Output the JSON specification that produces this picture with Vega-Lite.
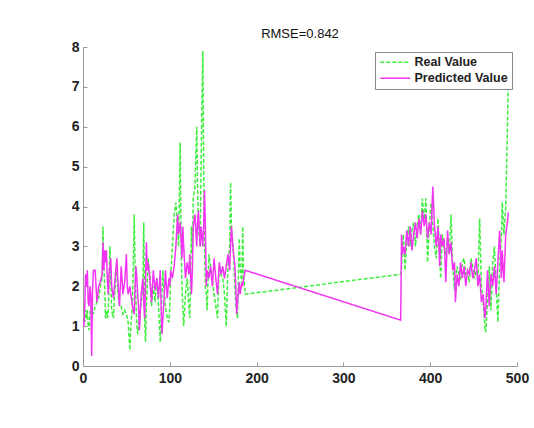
{
  "$schema": "https://vega.github.io/schema/vega-lite/v6.json",
  "width": 434,
  "height": 319,
  "autosize": "none",
  "padding": {"left": 83, "top": 47, "right": 17, "bottom": 62},
  "background": "white",
  "title": {"text": "RMSE=0.842", "fontSize": 13, "fontWeight": "normal", "font": "Liberation Sans", "color": "#111", "offset": -1, "anchor": "middle"},
  "data": {"values": [
    {"x":1,"real":1.3,"pred":1.0},{"x":2,"real":1.1,"pred":1.5},{"x":3,"real":1.4,"pred":2.3},{"x":4,"real":1.2,"pred":2.0},
    {"x":5,"real":1.4,"pred":2.4},{"x":6,"real":1.0,"pred":1.6},{"x":7,"real":0.9,"pred":1.5},{"x":8,"real":1.3,"pred":2.0},
    {"x":9,"real":1.5,"pred":1.8},{"x":10,"real":1.2,"pred":0.25},{"x":11,"real":1.4,"pred":1.9},{"x":12,"real":1.3,"pred":2.4},
    {"x":14,"real":1.5,"pred":2.4},{"x":16,"real":1.6,"pred":1.6},{"x":18,"real":1.7,"pred":2.0},{"x":20,"real":2.0,"pred":2.1},
    {"x":22,"real":2.2,"pred":2.3},{"x":23,"real":3.5,"pred":3.1},{"x":24,"real":2.5,"pred":2.4},{"x":25,"real":2.0,"pred":2.9},
    {"x":26,"real":1.2,"pred":2.6},{"x":27,"real":1.4,"pred":2.9},{"x":28,"real":1.2,"pred":2.2},{"x":29,"real":1.3,"pred":1.8},
    {"x":30,"real":2.0,"pred":2.3},{"x":31,"real":3.0,"pred":2.5},{"x":32,"real":2.2,"pred":2.7},{"x":33,"real":1.4,"pred":2.0},
    {"x":35,"real":1.2,"pred":1.7},{"x":37,"real":2.0,"pred":2.2},{"x":39,"real":2.6,"pred":2.7},{"x":40,"real":1.9,"pred":2.2},
    {"x":42,"real":1.5,"pred":1.5},{"x":44,"real":1.5,"pred":2.5},{"x":46,"real":1.3,"pred":1.8},{"x":48,"real":1.4,"pred":2.1},
    {"x":50,"real":1.3,"pred":2.8},{"x":51,"real":1.2,"pred":2.0},{"x":52,"real":1.1,"pred":1.8},{"x":54,"real":0.4,"pred":2.0},
    {"x":55,"real":1.0,"pred":1.8},{"x":57,"real":1.5,"pred":1.5},{"x":59,"real":3.8,"pred":1.3},{"x":60,"real":2.5,"pred":2.0},
    {"x":61,"real":1.6,"pred":2.5},{"x":62,"real":1.0,"pred":2.2},{"x":63,"real":0.8,"pred":1.8},{"x":64,"real":1.0,"pred":1.5},
    {"x":65,"real":1.3,"pred":0.9},{"x":67,"real":1.6,"pred":1.8},{"x":69,"real":2.0,"pred":2.2},{"x":70,"real":3.6,"pred":1.6},
    {"x":71,"real":1.2,"pred":1.2},{"x":72,"real":0.6,"pred":2.0},{"x":73,"real":1.5,"pred":3.1},{"x":74,"real":2.0,"pred":2.4},
    {"x":75,"real":2.7,"pred":2.6},{"x":77,"real":2.3,"pred":2.2},{"x":79,"real":1.5,"pred":1.6},{"x":81,"real":2.0,"pred":2.4},
    {"x":83,"real":1.6,"pred":1.9},{"x":85,"real":2.2,"pred":2.2},{"x":87,"real":1.5,"pred":1.7},{"x":89,"real":0.6,"pred":2.4},
    {"x":90,"real":1.2,"pred":1.5},{"x":91,"real":1.8,"pred":0.8},{"x":92,"real":2.4,"pred":1.2},{"x":93,"real":2.0,"pred":1.5},
    {"x":95,"real":1.5,"pred":2.4},{"x":97,"real":1.2,"pred":1.7},{"x":99,"real":1.1,"pred":2.2},{"x":100,"real":1.5,"pred":2.0},
    {"x":101,"real":2.2,"pred":2.4},{"x":103,"real":3.0,"pred":2.2},{"x":105,"real":3.8,"pred":2.5},{"x":107,"real":4.1,"pred":3.0},
    {"x":109,"real":3.5,"pred":3.8},{"x":110,"real":3.0,"pred":3.3},{"x":112,"real":5.6,"pred":3.6},{"x":113,"real":3.0,"pred":3.2},
    {"x":114,"real":2.0,"pred":2.7},{"x":115,"real":1.5,"pred":3.5},{"x":116,"real":1.0,"pred":3.0},{"x":118,"real":1.8,"pred":2.2},
    {"x":120,"real":2.2,"pred":2.6},{"x":122,"real":1.5,"pred":2.3},{"x":123,"real":1.2,"pred":2.8},{"x":125,"real":3.5,"pred":1.8},
    {"x":126,"real":2.8,"pred":2.4},{"x":127,"real":4.2,"pred":3.5},{"x":129,"real":4.5,"pred":3.8},{"x":131,"real":6.0,"pred":3.0},
    {"x":132,"real":4.5,"pred":3.6},{"x":133,"real":3.5,"pred":3.9},{"x":135,"real":3.0,"pred":3.0},{"x":136,"real":5.0,"pred":3.5},
    {"x":138,"real":7.9,"pred":3.0},{"x":139,"real":5.0,"pred":3.5},{"x":140,"real":3.0,"pred":4.4},{"x":141,"real":2.0,"pred":3.5},
    {"x":142,"real":1.8,"pred":2.0},{"x":143,"real":1.4,"pred":2.4},{"x":145,"real":2.8,"pred":2.2},{"x":147,"real":2.5,"pred":2.5},
    {"x":149,"real":2.2,"pred":2.0},{"x":151,"real":1.8,"pred":2.7},{"x":153,"real":1.5,"pred":2.2},{"x":155,"real":1.2,"pred":1.8},
    {"x":157,"real":2.5,"pred":2.6},{"x":159,"real":2.3,"pred":2.3},{"x":161,"real":2.2,"pred":2.5},{"x":163,"real":1.8,"pred":2.2},
    {"x":165,"real":1.0,"pred":2.5},{"x":167,"real":2.5,"pred":2.8},{"x":169,"real":3.0,"pred":2.4},{"x":170,"real":4.6,"pred":3.0},
    {"x":171,"real":3.5,"pred":3.5},{"x":173,"real":3.0,"pred":2.9},{"x":175,"real":2.0,"pred":2.5},{"x":176,"real":1.5,"pred":2.0},
    {"x":177,"real":1.4,"pred":1.3},{"x":178,"real":1.2,"pred":1.6},{"x":180,"real":3.2,"pred":2.1},{"x":181,"real":2.5,"pred":1.8},
    {"x":183,"real":2.0,"pred":2.1},{"x":184,"real":3.5,"pred":2.0},{"x":185,"real":2.3,"pred":2.2},{"x":187,"real":1.8,"pred":2.4},
    {"x":366,"real":2.3,"pred":1.15},{"x":367,"real":2.5,"pred":3.3},{"x":368,"real":3.0,"pred":2.8},{"x":369,"real":3.3,"pred":3.0},
    {"x":371,"real":2.4,"pred":2.8},{"x":373,"real":3.1,"pred":3.4},{"x":375,"real":3.5,"pred":3.0},{"x":377,"real":3.0,"pred":3.5},
    {"x":379,"real":3.4,"pred":2.9},{"x":381,"real":3.6,"pred":3.3},{"x":383,"real":3.0,"pred":3.6},{"x":385,"real":3.5,"pred":3.2},
    {"x":387,"real":3.8,"pred":3.7},{"x":389,"real":3.3,"pred":3.3},{"x":391,"real":4.2,"pred":3.9},{"x":393,"real":3.6,"pred":3.5},
    {"x":395,"real":4.2,"pred":3.8},{"x":397,"real":2.6,"pred":3.2},{"x":399,"real":3.5,"pred":3.6},{"x":401,"real":4.1,"pred":3.3},
    {"x":403,"real":3.5,"pred":4.5},{"x":405,"real":3.0,"pred":3.5},{"x":407,"real":2.7,"pred":3.0},{"x":409,"real":3.7,"pred":3.5},
    {"x":411,"real":2.8,"pred":2.5},{"x":412,"real":2.2,"pred":3.3},{"x":414,"real":3.3,"pred":3.0},{"x":416,"real":3.0,"pred":3.2},
    {"x":418,"real":2.8,"pred":2.1},{"x":420,"real":3.2,"pred":3.4},{"x":422,"real":2.8,"pred":2.8},{"x":424,"real":3.8,"pred":3.1},
    {"x":426,"real":2.5,"pred":2.4},{"x":428,"real":1.9,"pred":2.6},{"x":429,"real":2.2,"pred":1.6},{"x":431,"real":2.5,"pred":2.3},
    {"x":433,"real":2.3,"pred":2.0},{"x":435,"real":2.2,"pred":2.6},{"x":437,"real":2.6,"pred":2.2},{"x":439,"real":2.7,"pred":2.5},
    {"x":441,"real":2.3,"pred":2.0},{"x":443,"real":2.4,"pred":2.4},{"x":445,"real":2.1,"pred":2.3},{"x":447,"real":2.7,"pred":2.6},
    {"x":449,"real":2.5,"pred":2.2},{"x":451,"real":2.2,"pred":2.4},{"x":453,"real":2.4,"pred":2.7},{"x":455,"real":2.2,"pred":2.0},
    {"x":457,"real":3.7,"pred":2.3},{"x":459,"real":2.0,"pred":1.6},{"x":461,"real":1.6,"pred":1.8},{"x":463,"real":1.0,"pred":1.2},
    {"x":464,"real":0.85,"pred":1.4},{"x":466,"real":1.6,"pred":2.4},{"x":468,"real":2.5,"pred":1.5},{"x":470,"real":1.4,"pred":2.3},
    {"x":472,"real":2.6,"pred":2.0},{"x":474,"real":3.0,"pred":2.5},{"x":476,"real":2.0,"pred":1.8},{"x":478,"real":1.1,"pred":2.6},
    {"x":480,"real":2.5,"pred":3.4},{"x":482,"real":3.2,"pred":2.2},{"x":483,"real":4.1,"pred":2.9},{"x":485,"real":3.3,"pred":2.1},
    {"x":487,"real":4.0,"pred":3.3},{"x":489,"real":6.0,"pred":3.6},{"x":490,"real":7.4,"pred":3.85}
  ]},
  "transform": [{"fold": ["real", "pred"], "as": ["series", "value"]}],
  "mark": {"type": "line", "strokeWidth": 1.5, "clip": true},
  "encoding": {
    "x": {"field": "x", "type": "quantitative", "scale": {"domain": [0, 500], "nice": false},
      "axis": {"title": null, "values": [0, 100, 200, 300, 400, 500], "grid": false, "tickSize": -4, "labelPadding": 9,
        "labelFont": "Liberation Sans", "labelFontSize": 14, "labelFontWeight": "bold", "labelColor": "#222",
        "domainColor": "#999", "tickColor": "#999", "labelFlush": false}},
    "y": {"field": "value", "type": "quantitative", "scale": {"domain": [0, 8], "nice": false},
      "axis": {"title": null, "values": [0, 1, 2, 3, 4, 5, 6, 7, 8], "grid": false, "tickSize": -4, "labelPadding": 8,
        "labelFont": "Liberation Sans", "labelFontSize": 14, "labelFontWeight": "bold", "labelColor": "#222",
        "domainColor": "#999", "tickColor": "#999", "labelFlush": false}},
    "color": {"field": "series", "type": "nominal",
      "scale": {"domain": ["real", "pred"], "range": ["#3cef3c", "#f235f2"]},
      "legend": {"title": null, "orient": "none", "legendX": 292, "legendY": 5,
        "labelExpr": "datum.label == 'real' ? 'Real Value' : 'Predicted Value'",
        "symbolType": "M-1,0H5", "symbolSize": 100, "symbolStrokeWidth": 1.5,
        "labelFont": "Liberation Sans", "labelFontSize": 12.5, "labelFontWeight": "bold", "labelColor": "#222",
        "fillColor": "white", "strokeColor": "#888", "padding": 4, "rowPadding": 3, "labelOffset": 23}},
    "strokeDash": {"field": "series", "type": "nominal",
      "scale": {"domain": ["real", "pred"], "range": [[4, 2], [1, 0]]},
      "legend": null}
  },
  "config": {"view": {"stroke": null}, "font": "Liberation Sans"}
}
